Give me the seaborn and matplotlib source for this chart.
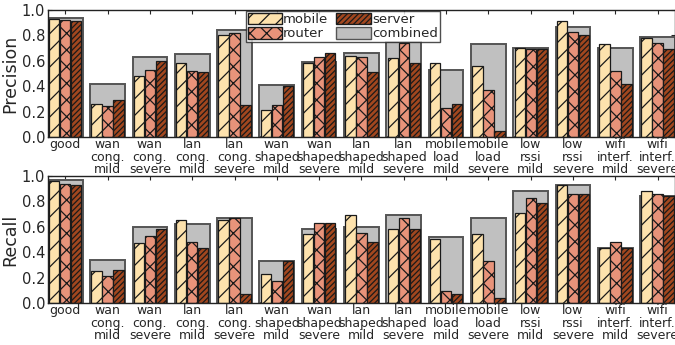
import matplotlib
matplotlib.use("Agg")
import matplotlib.pyplot as plt
from matplotlib.patches import Patch
import seaborn as sns
import pandas as pd

categories = ["good", "wan\ncong.\nmild", "wan\ncong.\nsevere", "lan\ncong.\nmild",
              "lan\ncong.\nsevere", "wan\nshaped\nmild", "wan\nshaped\nsevere",
              "lan\nshaped\nmild", "lan\nshaped\nsevere", "mobile\nload\nmild",
              "mobile\nload\nsevere", "low\nrssi\nmild", "low\nrssi\nsevere",
              "wifi\ninterf.\nmild", "wifi\ninterf.\nsevere"]

precision_mobile = [0.93, 0.26, 0.48, 0.58, 0.80, 0.21, 0.58, 0.64, 0.62, 0.58, 0.56, 0.70, 0.91, 0.73, 0.78]
precision_router = [0.92, 0.24, 0.53, 0.52, 0.82, 0.25, 0.63, 0.63, 0.74, 0.23, 0.37, 0.69, 0.83, 0.52, 0.74]
precision_server = [0.91, 0.29, 0.60, 0.51, 0.25, 0.40, 0.66, 0.51, 0.58, 0.26, 0.05, 0.69, 0.80, 0.42, 0.69]
precision_combined = [0.94, 0.42, 0.63, 0.65, 0.84, 0.41, 0.59, 0.66, 0.75, 0.53, 0.73, 0.70, 0.87, 0.70, 0.79]

recall_mobile = [0.96, 0.25, 0.47, 0.65, 0.65, 0.23, 0.54, 0.69, 0.58, 0.50, 0.54, 0.71, 0.93, 0.43, 0.88]
recall_router = [0.94, 0.21, 0.53, 0.48, 0.67, 0.17, 0.63, 0.55, 0.67, 0.09, 0.33, 0.83, 0.86, 0.48, 0.86]
recall_server = [0.93, 0.26, 0.58, 0.43, 0.07, 0.33, 0.63, 0.48, 0.58, 0.07, 0.04, 0.79, 0.86, 0.43, 0.84]
recall_combined = [0.97, 0.34, 0.60, 0.62, 0.67, 0.33, 0.58, 0.60, 0.69, 0.52, 0.67, 0.88, 0.93, 0.43, 0.84]

sources = ["mobile", "router", "server"]
colors = {"mobile": "#fde2ad", "router": "#e8937a", "server": "#a2471f"}
hatches = {"mobile": "//", "router": "xx", "server": "//////"}
combined_color = "#c0c0c0"

sns.set_style("ticks")
plt.rcParams["font.family"] = ["DejaVu Sans"]
plt.rcParams["hatch.linewidth"] = 0.9
plt.rcParams["hatch.color"] = "#1a1a1a"

fig = plt.figure(figsize=(6.75, 3.45), dpi=100)
ax_top = fig.add_axes([0.071, 0.603, 0.929, 0.368])
ax_bot = fig.add_axes([0.071, 0.122, 0.929, 0.368])


def draw_panel(ax, mob, rou, srv, comb, ylabel):
    comb_df = pd.DataFrame({"condition": categories, "value": comb})
    sns.barplot(data=comb_df, x="condition", y="value", order=categories,
                color=combined_color, width=0.82, saturation=1,
                edgecolor="#555555", linewidth=1.4, ax=ax, zorder=1)
    n_comb = len(ax.patches)

    long_df = pd.DataFrame({
        "condition": categories * 3,
        "source": [s for s in sources for _ in categories],
        "value": list(mob) + list(rou) + list(srv),
    })
    sns.barplot(data=long_df, x="condition", y="value", hue="source",
                order=categories, hue_order=sources, palette=colors,
                width=0.78, gap=0.06, saturation=1, edgecolor="#1a1a1a",
                linewidth=0.9, ax=ax, legend=False, zorder=2)
    bars = ax.patches[n_comb:]
    for i, p in enumerate(bars):
        src = sources[i // len(categories)]
        p.set_hatch(hatches[src])
        p.set_zorder(2)

    ax.set_xlim(-0.41, len(categories) - 0.59)
    ax.set_ylim(0, 1.0)
    ax.set_yticks([0.0, 0.2, 0.4, 0.6, 0.8, 1.0])
    ax.set_yticklabels(["0.0", "0.2", "0.4", "0.6", "0.8", "1.0"])
    ax.set_xlabel("")
    ax.set_ylabel(ylabel, fontsize=12.5, labelpad=2)
    ax.tick_params(axis="y", labelsize=10.5, direction="in", right=True, length=3, pad=2)
    ax.tick_params(axis="x", labelsize=9, direction="in", top=True, length=3, pad=1)
    for lbl in ax.get_xticklabels():
        lbl.set_linespacing(0.95)
    for s in ax.spines.values():
        s.set_visible(True)
        s.set_linewidth(1.0)
        s.set_color("#222222")


draw_panel(ax_top, precision_mobile, precision_router, precision_server,
           precision_combined, "Precision")
draw_panel(ax_bot, recall_mobile, recall_router, recall_server,
           recall_combined, "Recall")

handles = [
    Patch(facecolor=colors["mobile"], edgecolor="#1a1a1a", hatch=hatches["mobile"], label="mobile"),
    Patch(facecolor=colors["router"], edgecolor="#1a1a1a", hatch=hatches["router"], label="router"),
    Patch(facecolor=colors["server"], edgecolor="#1a1a1a", hatch=hatches["server"], label="server"),
    Patch(facecolor=combined_color, edgecolor="#555555", label="combined"),
]
leg = ax_top.legend(handles=handles, ncol=2, loc="upper center",
                    bbox_to_anchor=(0.47, 1.0), fontsize=9.5, frameon=True,
                    fancybox=False, handlelength=2.6, handleheight=1.0,
                    handletextpad=0.1, columnspacing=0.6, borderpad=0.15,
                    labelspacing=0.05, borderaxespad=0.05)
leg.get_frame().set_edgecolor("#222222")
leg.get_frame().set_linewidth(1.0)
leg.set_zorder(5)

fig.savefig("out.png", dpi=100)
